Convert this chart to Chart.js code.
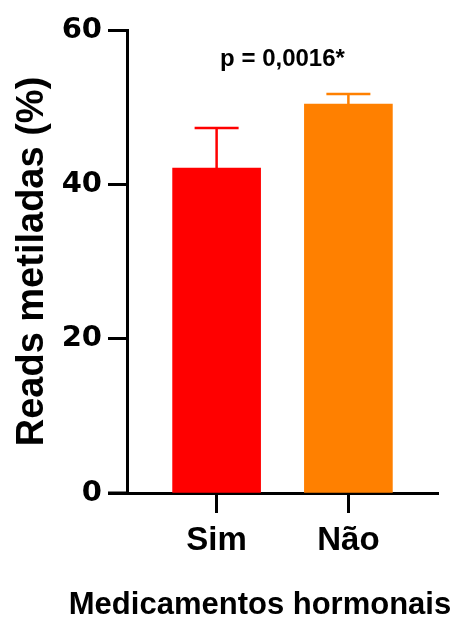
<!DOCTYPE html>
<html>
<head>
<meta charset="UTF-8">
<title>Reads metiladas</title>
<style>
body {
	margin: 0;
	background-color: #ffffff;
}
#wrap {
	width: 458px;
	height: 619px;
}
</style>
<script src="https://cdn.jsdelivr.net/npm/chart.js"></script>
</head>
<body>
<div id="wrap">
	<canvas id="barChart" width="458" height="619"></canvas>
</div>
<script>
// data
const categories = ['Sim', 'Não'];
const means = [42.1, 50.4];
const errors = [5.2, 1.3];
const barColors = ['#ff0000', '#ff8000'];
const yTicks = [0, 20, 40, 60];
const pLabel = 'p = 0,0016*';
const yTitle = 'Reads metiladas (%)';
const xTitle = 'Medicamentos hormonais';

const FONT = "'Liberation Sans', Arial, sans-serif";
const TICKFONT = "'DejaVu Sans', sans-serif";

// error bars + p value + x title
const extras = {
	id: 'extras',
	afterDatasetsDraw(chart) {
		const ctx = chart.ctx;
		const xs = chart.scales.x, ys = chart.scales.y;
		ctx.save();
		ctx.lineWidth = 2.5;
		means.forEach((m, i) => {
			const x = xs.getPixelForValue(i + 1);
			const y0 = ys.getPixelForValue(m);
			const y1 = ys.getPixelForValue(m + errors[i]);
			ctx.strokeStyle = barColors[i];
			ctx.beginPath();
			ctx.moveTo(x, y0);
			ctx.lineTo(x, y1);
			ctx.moveTo(x - 22, y1);
			ctx.lineTo(x + 22, y1);
			ctx.stroke();
		});
		ctx.restore();
	},
	afterDraw(chart) {
		const ctx = chart.ctx;
		const a = chart.chartArea;
		ctx.save();
		// x axis line runs a bit past the y axis
		ctx.strokeStyle = '#000';
		ctx.lineWidth = 3;
		ctx.beginPath();
		ctx.moveTo(a.left - 19, a.bottom);
		ctx.lineTo(a.left, a.bottom);
		ctx.stroke();

		ctx.fillStyle = '#000';
		ctx.textAlign = 'center';
		ctx.textBaseline = 'middle';
		ctx.font = 'bold 24px ' + FONT;
		ctx.fillText(pLabel, (a.left + a.right) / 2, 59);
		ctx.font = 'bold 31px ' + FONT;
		ctx.fillText(xTitle, 260, 605);
		ctx.restore();
	}
};

new Chart(document.getElementById('barChart'), {
	type: 'bar',
	data: {
		datasets: [{
			data: means.map((v, i) => ({ x: i + 1, y: v })),
			backgroundColor: barColors,
			borderWidth: 0,
			barThickness: 88
		}]
	},
	options: {
		responsive: false,
		animation: false,
		layout: { padding: { top: 30, right: 20, bottom: 0, left: 0 } },
		plugins: {
			legend: { display: false },
			tooltip: { enabled: false }
		},
		scales: {
			x: {
				type: 'linear',
				min: 0.32,
				max: 2.68,
				offset: false,
				afterBuildTicks(scale) {
					scale.ticks = categories.map((c, i) => ({ value: i + 1 }));
				},
				afterFit(scale) { scale.height = 126; },
				grid: {
					offset: false,
					drawOnChartArea: false,
					drawTicks: true,
					tickLength: 20,
					tickWidth: 3,
					tickColor: '#000'
				},
				border: { color: '#000', width: 3 },
				ticks: {
					color: '#000',
					padding: 8,
					font: { family: FONT, size: 33, weight: 'bold' },
					callback: (v) => categories[v - 1]
				}
			},
			y: {
				min: 0,
				max: 60,
				afterBuildTicks(scale) {
					scale.ticks = yTicks.map(v => ({ value: v }));
				},
				afterFit(scale) { scale.width = 127; },
				grid: {
					drawOnChartArea: false,
					drawTicks: true,
					tickLength: 19,
					tickWidth: 3,
					tickColor: '#000'
				},
				border: { color: '#000', width: 3 },
				ticks: {
					color: '#000',
					padding: 6,
					font: { family: TICKFONT, size: 29, weight: 'bold' }
				},
				title: {
					display: true,
					text: yTitle,
					color: '#000',
					padding: { top: 10, bottom: 0 },
					font: { family: FONT, size: 38, weight: 'bold' }
				}
			}
		}
	},
	plugins: [extras]
});
</script>
</body>
</html>
